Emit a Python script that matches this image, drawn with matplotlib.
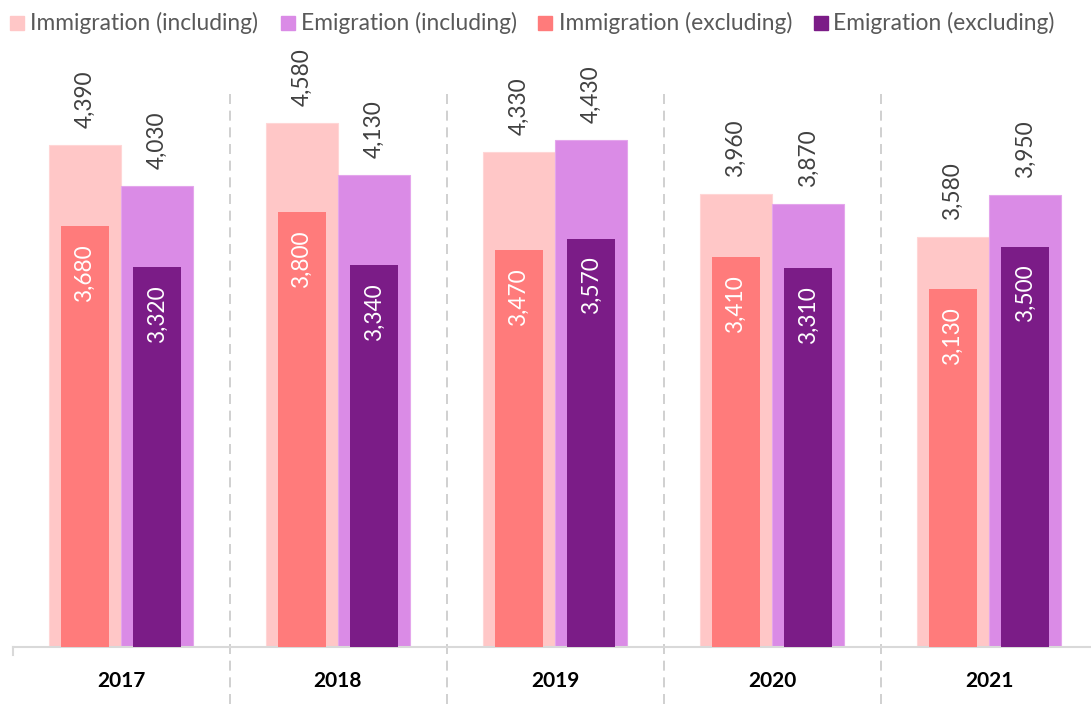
import matplotlib
matplotlib.use("Agg")
import matplotlib.pyplot as plt
from matplotlib.patches import Rectangle
from matplotlib.transforms import blended_transform_factory
import numpy as np

years = ["2017", "2018", "2019", "2020", "2021"]
immigration_incl = [4390, 4580, 4330, 3960, 3580]
emigration_incl = [4030, 4130, 4430, 3870, 3950]
immigration_excl = [3680, 3800, 3470, 3410, 3130]
emigration_excl = [3320, 3340, 3570, 3310, 3500]

series_names = ["Immigration (including)", "Emigration (including)",
                "Immigration (excluding)", "Emigration (excluding)"]
colors = ["#FFC7C7", "#DA8BE6", "#FF7B7B", "#7B1C87"]

plt.rcParams['font.family'] = ['Lato', 'DejaVu Sans']

W, H = 1091, 704
fig = plt.figure(figsize=(W / 100, H / 100), dpi=100)

ymax = 5000
scale = 0.1144
base_px = 647
top_px = base_px - ymax * scale
left_px, right_px = 12.5, 1097.5
ax = fig.add_axes([left_px / W, 1 - base_px / H, (right_px - left_px) / W, (base_px - top_px) / H])
ax.set_xlim(-0.5, 4.5)
ax.set_ylim(0, ymax)

x = np.arange(len(years))
wide = 0.333
narrow = 0.222
off = wide / 2

b1 = ax.bar(x - off, immigration_incl, wide, color=colors[0], edgecolor="#FFD6D6", linewidth=0.8, zorder=2)
b2 = ax.bar(x + off, emigration_incl, wide, color=colors[1], edgecolor="#E4A6EC", linewidth=0.8, zorder=2)
b3 = ax.bar(x - off, immigration_excl, narrow, color=colors[2], zorder=3)
b4 = ax.bar(x + off, emigration_excl, narrow, color=colors[3], zorder=3)

for bars, vals in ((b1, immigration_incl), (b2, emigration_incl)):
    for rect, v in zip(bars, vals):
        ax.annotate(f"{v:,}", (rect.get_x() + rect.get_width() / 2, v),
                    xytext=(0, 17), textcoords="offset pixels",
                    rotation=90, ha="center", va="bottom",
                    fontsize=16.3, color="#404040", annotation_clip=False)
for bars, vals in ((b3, immigration_excl), (b4, emigration_excl)):
    for rect, v in zip(bars, vals):
        ax.annotate(f"{v:,}", (rect.get_x() + rect.get_width() / 2, v),
                    xytext=(0, -18), textcoords="offset pixels",
                    rotation=90, ha="center", va="top",
                    fontsize=16.3, color="white", zorder=5)

for s in ["top", "right", "left"]:
    ax.spines[s].set_visible(False)
ax.spines["bottom"].set_color("#D9D9D9")
ax.spines["bottom"].set_linewidth(1.5)
ax.set_yticks([])
ax.set_xticks(x)
ax.set_xticklabels(years, fontsize=15, fontweight="bold", color="black")
ax.tick_params(axis="x", length=0, pad=17)

tr = blended_transform_factory(ax.transData, fig.transFigure)
for xs in x[:-1] + 0.5:
    ax.plot([xs, xs], [1 - 94 / H, 0], transform=tr, color="#C8C8C8",
            linewidth=1.2, linestyle=(0, (6, 4)), clip_on=False, zorder=1)
ax.plot([-0.5, -0.5], [1 - base_px / H, 1 - 655 / H], transform=tr, color="#D9D9D9",
        linewidth=1.5, clip_on=False)

sq_x = [10, 281, 538, 814]
tx_x = [29.5, 301, 559, 833]
for sx, tx, c, name in zip(sq_x, tx_x, colors, series_names):
    fig.patches.append(Rectangle((sx / W, 1 - 30 / H), 14 / W, 14 / H,
                                 transform=fig.transFigure, color=c))
    fig.text(tx / W, 1 - 22.5 / H, name, fontsize=16.4, color="#595959",
             ha="left", va="center")

fig.savefig("out.png", dpi=100)
